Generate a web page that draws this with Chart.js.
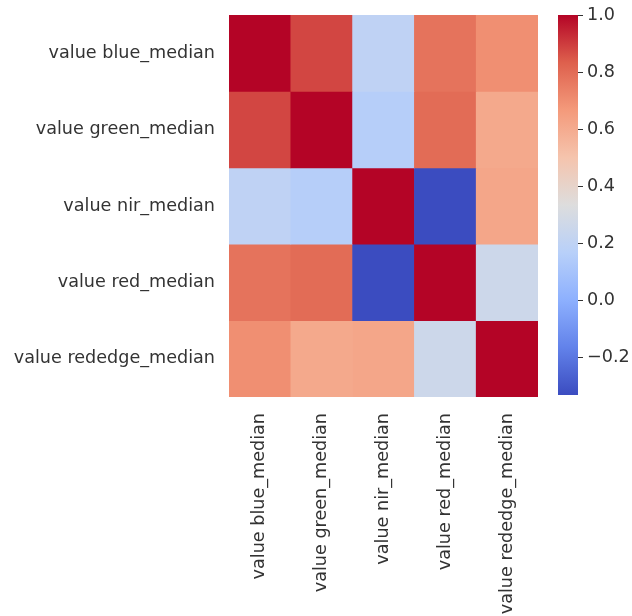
<!DOCTYPE html>
<html>
<head>
<meta charset="utf-8">
<script src="https://cdn.jsdelivr.net/npm/chart.js@4.4.1/dist/chart.umd.min.js"></script>
<style>
  body { margin: 0; background: #fff; }
  #wrap { position: relative; width: 632px; height: 616px; }
  #heat { position: absolute; left: 0; top: 0; }
  #cbar { position: absolute; left: 540px; top: 0; }
</style>
</head>
<body>
<div id="wrap">
  <canvas id="heat" width="540" height="616"></canvas>
  <canvas id="cbar" width="92" height="616"></canvas>
</div>
<script>
// categories
var names = ["value blue_median", "value green_median", "value nir_median", "value red_median", "value rededge_median"];

// correlation rows
var blueRow    = [1.00, 0.88, 0.20, 0.78, 0.70];
var greenRow   = [0.88, 1.00, 0.16, 0.80, 0.61];
var nirRow     = [0.20, 0.16, 1.00, -0.33, 0.62];
var redRow     = [0.78, 0.80, -0.33, 1.00, 0.26];
var rededgeRow = [0.70, 0.61, 0.62, 0.26, 1.00];

// colour bar
var cbarTicks = [-0.2, 0.0, 0.2, 0.4, 0.6, 0.8, 1.0];
var vmin = -0.33, vmax = 1.0;

var rows = [blueRow, greenRow, nirRow, redRow, rededgeRow];
var cellSize = [1, 1, 1, 1, 1];

// coolwarm lookup
var cw = [
  [59, 76, 192], [98, 130, 234], [141, 176, 254], [184, 208, 249],
  [221, 221, 221], [245, 196, 173], [244, 154, 123], [222, 96, 77], [180, 4, 38]
];
function coolwarm(t) {
  t = Math.max(0, Math.min(1, t));
  var p = t * (cw.length - 1);
  var i = Math.min(cw.length - 2, Math.floor(p));
  var f = p - i;
  var c = [0, 1, 2].map(function(k){ return Math.round(cw[i][k] + (cw[i + 1][k] - cw[i][k]) * f); });
  return "rgb(" + c.join(",") + ")";
}
function colourOf(v) { return coolwarm((v - vmin) / (vmax - vmin)); }

var font = { family: "'DejaVu Sans'", size: 17.6 };
var textColor = "#333";

var datasets = rows.map(function(r, i){
  return {
    label: names[i],
    data: cellSize,
    backgroundColor: r.map(colourOf),
    borderWidth: 0,
    barPercentage: 1,
    categoryPercentage: 1
  };
});

new Chart(document.getElementById("heat"), {
  type: "bar",
  data: { labels: names, datasets: datasets },
  options: {
    responsive: false,
    animation: false,
    layout: { padding: { top: 15, right: 2, left: 0, bottom: 0 } },
    plugins: { legend: { display: false }, tooltip: { enabled: false } },
    scales: {
      x: {
        stacked: true,
        grid: { display: false, drawTicks: false },
        border: { display: false },
        ticks: { font: font, color: textColor, maxRotation: 90, minRotation: 90, padding: 16, autoSkip: false },
        afterFit: function(s){ s.height = 616 - 397; s.paddingLeft = 0; s.paddingRight = 0; }
      },
      y: {
        stacked: true,
        reverse: true,
        min: 0, max: 5,
        grid: { display: false, drawTicks: false },
        border: { display: false },
        afterBuildTicks: function(s){ s.ticks = names.map(function(n, i){ return { value: i + 0.5 }; }); },
        ticks: {
          font: font, color: textColor, padding: 14,
          callback: function(v){ return names[Math.floor(v)]; }
        },
        afterFit: function(s){ s.width = 229; s.paddingTop = 0; s.paddingBottom = 0; }
      }
    }
  }
});

new Chart(document.getElementById("cbar"), {
  type: "bar",
  data: {
    labels: [""],
    datasets: [{
      data: [[vmin, vmax]],
      borderWidth: 0,
      barPercentage: 1,
      categoryPercentage: 1,
      backgroundColor: function(ctx){
        var area = ctx.chart.chartArea;
        if (!area) return "#ccc";
        var g = ctx.chart.ctx.createLinearGradient(0, area.bottom, 0, area.top);
        cw.forEach(function(c, i){ g.addColorStop(i / (cw.length - 1), "rgb(" + c.join(",") + ")"); });
        return g;
      }
    }]
  },
  options: {
    responsive: false,
    animation: false,
    layout: { padding: { top: 15, left: 18, right: 0, bottom: 616 - 395 } },
    plugins: { legend: { display: false }, tooltip: { enabled: false } },
    scales: {
      x: { display: false },
      y: {
        position: "right",
        min: vmin, max: vmax,
        grid: { display: true, drawOnChartArea: false, drawTicks: true, tickLength: 5, color: textColor },
        border: { display: false },
        afterBuildTicks: function(s){ s.ticks = cbarTicks.map(function(v){ return { value: v }; }); },
        ticks: {
          font: font, color: textColor, padding: 4,
          callback: function(v){ return v.toFixed(1).replace("-", "\u2212"); }
        },
        afterFit: function(s){ s.width = 92 - 38; s.paddingTop = 0; s.paddingBottom = 0; }
      }
    }
  }
});
</script>
</body>
</html>
